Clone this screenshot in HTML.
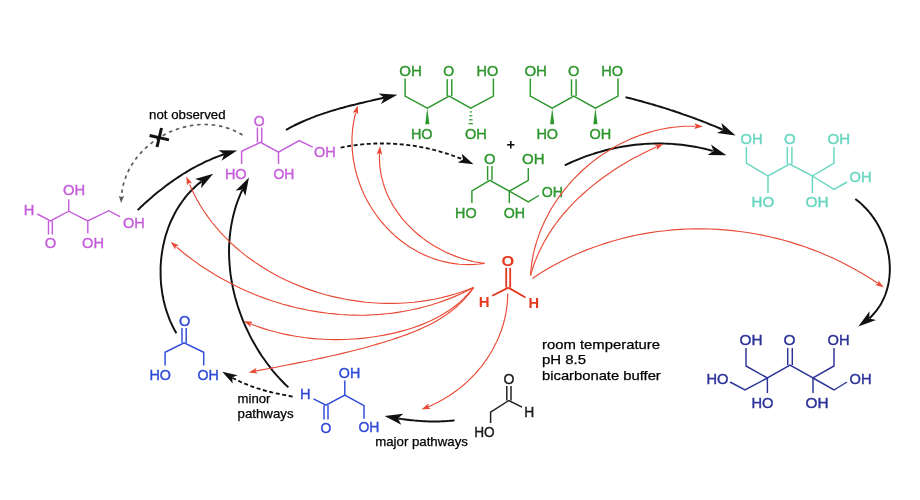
<!DOCTYPE html>
<html><head><meta charset="utf-8"><style>
html,body{margin:0;padding:0;background:#fff;}
svg{display:block;filter:blur(0.45px);}
text{font-family:"Liberation Sans",sans-serif;}
</style></head><body>
<svg width="920" height="500" viewBox="0 0 920 500">
<rect width="920" height="500" fill="#fff"/>
<polyline points="37.4,214 50.4,221 68.7,211.2 87.8,221 108.7,210.7 120,216.7" fill="none" stroke="#c55ddb" stroke-width="1.45" stroke-linejoin="miter"/>
<line x1="68.7" y1="211.2" x2="68.7" y2="199.3" stroke="#c55ddb" stroke-width="1.45" stroke-linecap="butt"/>
<line x1="87.8" y1="221" x2="87.8" y2="233.3" stroke="#c55ddb" stroke-width="1.45" stroke-linecap="butt"/>
<line x1="48.5" y1="221" x2="48.5" y2="234.5" stroke="#c55ddb" stroke-width="1.45" stroke-linecap="butt"/>
<line x1="52.3" y1="221" x2="52.3" y2="234.5" stroke="#c55ddb" stroke-width="1.45" stroke-linecap="butt"/>
<text x="23.8" y="215.0" font-size="14.5" fill="#c55ddb" stroke="#c55ddb" stroke-width="0.4" textLength="10.6" lengthAdjust="spacingAndGlyphs">H</text>
<text x="63.0" y="194.6" font-size="14.5" fill="#c55ddb" stroke="#c55ddb" stroke-width="0.4" textLength="22.1" lengthAdjust="spacingAndGlyphs">OH</text>
<text x="44.7" y="248.4" font-size="14.5" fill="#c55ddb" stroke="#c55ddb" stroke-width="0.4" textLength="11.5" lengthAdjust="spacingAndGlyphs">O</text>
<text x="82.1" y="248.4" font-size="14.5" fill="#c55ddb" stroke="#c55ddb" stroke-width="0.4" textLength="21.9" lengthAdjust="spacingAndGlyphs">OH</text>
<text x="123.0" y="227.6" font-size="14.5" fill="#c55ddb" stroke="#c55ddb" stroke-width="0.4" textLength="21.8" lengthAdjust="spacingAndGlyphs">OH</text>
<polyline points="241.6,164 241.6,151.3 260.5,142.3 278.5,152.2 299.2,140.5 312.7,147.2" fill="none" stroke="#c55ddb" stroke-width="1.45" stroke-linejoin="miter"/>
<line x1="278.5" y1="152.2" x2="278.5" y2="164" stroke="#c55ddb" stroke-width="1.45" stroke-linecap="butt"/>
<line x1="257.40000000000003" y1="127.5" x2="257.40000000000003" y2="142.3" stroke="#c55ddb" stroke-width="1.45" stroke-linecap="butt"/>
<line x1="261.8" y1="127.5" x2="261.8" y2="142.3" stroke="#c55ddb" stroke-width="1.45" stroke-linecap="butt"/>
<text x="253.7" y="125.6" font-size="14.5" fill="#c55ddb" stroke="#c55ddb" stroke-width="0.4" textLength="10.9" lengthAdjust="spacingAndGlyphs">O</text>
<text x="224.9" y="178.7" font-size="14.5" fill="#c55ddb" stroke="#c55ddb" stroke-width="0.4" textLength="21.7" lengthAdjust="spacingAndGlyphs">HO</text>
<text x="273.5" y="178.7" font-size="14.5" fill="#c55ddb" stroke="#c55ddb" stroke-width="0.4" textLength="20.8" lengthAdjust="spacingAndGlyphs">OH</text>
<text x="314.0" y="157.1" font-size="14.5" fill="#c55ddb" stroke="#c55ddb" stroke-width="0.4" textLength="21.7" lengthAdjust="spacingAndGlyphs">OH</text>
<polyline points="405.1,78.4 405.1,96.1 427.3,108.1 449.2,96.1 470.8,108.1 493.4,96.1 493.4,78.4" fill="none" stroke="#2d962d" stroke-width="1.45" stroke-linejoin="miter"/>
<line x1="447.2" y1="79.3" x2="447.2" y2="96.1" stroke="#2d962d" stroke-width="1.45" stroke-linecap="butt"/>
<line x1="451.8" y1="79.3" x2="451.8" y2="96.1" stroke="#2d962d" stroke-width="1.45" stroke-linecap="butt"/>
<polygon points="427.3,108.1 425.2,124.3 429.40000000000003,124.3" fill="#2d962d"/>
<line x1="469.7" y1="111.9" x2="471.9" y2="111.9" stroke="#2d962d" stroke-width="1.2" stroke-linecap="butt"/>
<line x1="469.3" y1="115.8" x2="472.3" y2="115.8" stroke="#2d962d" stroke-width="1.2" stroke-linecap="butt"/>
<line x1="469.0" y1="119.8" x2="472.6" y2="119.8" stroke="#2d962d" stroke-width="1.2" stroke-linecap="butt"/>
<line x1="468.6" y1="123.7" x2="473.0" y2="123.7" stroke="#2d962d" stroke-width="1.2" stroke-linecap="butt"/>
<text x="399.2" y="75.6" font-size="14.5" fill="#2d962d" stroke="#2d962d" stroke-width="0.4" textLength="22.6" lengthAdjust="spacingAndGlyphs">OH</text>
<text x="443.3" y="75.6" font-size="14.5" fill="#2d962d" stroke="#2d962d" stroke-width="0.4" textLength="10.9" lengthAdjust="spacingAndGlyphs">O</text>
<text x="476.6" y="75.6" font-size="14.5" fill="#2d962d" stroke="#2d962d" stroke-width="0.4" textLength="21.8" lengthAdjust="spacingAndGlyphs">HO</text>
<text x="410.9" y="138.6" font-size="14.5" fill="#2d962d" stroke="#2d962d" stroke-width="0.4" textLength="21.7" lengthAdjust="spacingAndGlyphs">HO</text>
<text x="464.9" y="138.6" font-size="14.5" fill="#2d962d" stroke="#2d962d" stroke-width="0.4" textLength="21.8" lengthAdjust="spacingAndGlyphs">OH</text>
<polyline points="530.3,78.5 530.3,96.1 552.2,108.1 573.8,96.1 595.4,108.1 618,96.1 618,78.5" fill="none" stroke="#2d962d" stroke-width="1.45" stroke-linejoin="miter"/>
<line x1="571.5" y1="79.3" x2="571.5" y2="96.1" stroke="#2d962d" stroke-width="1.45" stroke-linecap="butt"/>
<line x1="576.0999999999999" y1="79.3" x2="576.0999999999999" y2="96.1" stroke="#2d962d" stroke-width="1.45" stroke-linecap="butt"/>
<polygon points="552.2,108.1 550.1,124.3 554.3000000000001,124.3" fill="#2d962d"/>
<polygon points="595.4,108.1 593.3,124.3 597.5,124.3" fill="#2d962d"/>
<text x="524.4" y="76.1" font-size="14.5" fill="#2d962d" stroke="#2d962d" stroke-width="0.4" textLength="22.6" lengthAdjust="spacingAndGlyphs">OH</text>
<text x="567.9" y="76.1" font-size="14.5" fill="#2d962d" stroke="#2d962d" stroke-width="0.4" textLength="11.3" lengthAdjust="spacingAndGlyphs">O</text>
<text x="601.2" y="76.1" font-size="14.5" fill="#2d962d" stroke="#2d962d" stroke-width="0.4" textLength="21.8" lengthAdjust="spacingAndGlyphs">HO</text>
<text x="536.4" y="139.1" font-size="14.5" fill="#2d962d" stroke="#2d962d" stroke-width="0.4" textLength="21.7" lengthAdjust="spacingAndGlyphs">HO</text>
<text x="589.5" y="139.1" font-size="14.5" fill="#2d962d" stroke="#2d962d" stroke-width="0.4" textLength="21.8" lengthAdjust="spacingAndGlyphs">OH</text>
<line x1="507.1" y1="144.8" x2="514.5" y2="144.8" stroke="#111" stroke-width="1.6" stroke-linecap="butt"/>
<line x1="510.8" y1="141.1" x2="510.8" y2="148.5" stroke="#111" stroke-width="1.6" stroke-linecap="butt"/>
<polyline points="471.9,203.1 471.9,190.8 489.8,180.3 509.3,191.2 528.3,180.3 528.3,168" fill="none" stroke="#2d962d" stroke-width="1.45" stroke-linejoin="miter"/>
<line x1="509.3" y1="191.2" x2="509.3" y2="203.1" stroke="#2d962d" stroke-width="1.45" stroke-linecap="butt"/>
<polyline points="509.3,191.2 528.3,201.8 538.8,195.5" fill="none" stroke="#2d962d" stroke-width="1.45" stroke-linejoin="miter"/>
<line x1="487.6" y1="166.1" x2="487.6" y2="180.3" stroke="#2d962d" stroke-width="1.45" stroke-linecap="butt"/>
<line x1="492.0" y1="166.1" x2="492.0" y2="180.3" stroke="#2d962d" stroke-width="1.45" stroke-linecap="butt"/>
<text x="484.1" y="164.2" font-size="14.5" fill="#2d962d" stroke="#2d962d" stroke-width="0.4" textLength="11.5" lengthAdjust="spacingAndGlyphs">O</text>
<text x="522.1" y="164.2" font-size="14.5" fill="#2d962d" stroke="#2d962d" stroke-width="0.4" textLength="22.5" lengthAdjust="spacingAndGlyphs">OH</text>
<text x="541.7" y="196.9" font-size="14.5" fill="#2d962d" stroke="#2d962d" stroke-width="0.4" textLength="21.3" lengthAdjust="spacingAndGlyphs">OH</text>
<text x="455.1" y="218.2" font-size="14.5" fill="#2d962d" stroke="#2d962d" stroke-width="0.4" textLength="21.5" lengthAdjust="spacingAndGlyphs">HO</text>
<text x="503.7" y="218.2" font-size="14.5" fill="#2d962d" stroke="#2d962d" stroke-width="0.4" textLength="21.3" lengthAdjust="spacingAndGlyphs">OH</text>
<polyline points="746.4,147 746.4,163 768,176 789.6,164 812.4,176 834,163 834,147" fill="none" stroke="#68d6c0" stroke-width="1.45" stroke-linejoin="miter"/>
<line x1="768" y1="176" x2="768" y2="193" stroke="#68d6c0" stroke-width="1.45" stroke-linecap="butt"/>
<line x1="812.4" y1="176" x2="812.4" y2="193" stroke="#68d6c0" stroke-width="1.45" stroke-linecap="butt"/>
<polyline points="812.4,176 834,189.4 847,182" fill="none" stroke="#68d6c0" stroke-width="1.45" stroke-linejoin="miter"/>
<line x1="787.3000000000001" y1="147" x2="787.3000000000001" y2="164" stroke="#68d6c0" stroke-width="1.45" stroke-linecap="butt"/>
<line x1="791.9" y1="147" x2="791.9" y2="164" stroke="#68d6c0" stroke-width="1.45" stroke-linecap="butt"/>
<text x="740.5" y="144.4" font-size="14.5" fill="#68d6c0" stroke="#68d6c0" stroke-width="0.4" textLength="22.0" lengthAdjust="spacingAndGlyphs">OH</text>
<text x="783.9" y="144.4" font-size="14.5" fill="#68d6c0" stroke="#68d6c0" stroke-width="0.4" textLength="11.6" lengthAdjust="spacingAndGlyphs">O</text>
<text x="827.5" y="144.4" font-size="14.5" fill="#68d6c0" stroke="#68d6c0" stroke-width="0.4" textLength="22.6" lengthAdjust="spacingAndGlyphs">OH</text>
<text x="849.5" y="182.4" font-size="14.5" fill="#68d6c0" stroke="#68d6c0" stroke-width="0.4" textLength="22.0" lengthAdjust="spacingAndGlyphs">OH</text>
<text x="751.5" y="207.4" font-size="14.5" fill="#68d6c0" stroke="#68d6c0" stroke-width="0.4" textLength="22.6" lengthAdjust="spacingAndGlyphs">HO</text>
<text x="805.5" y="207.4" font-size="14.5" fill="#68d6c0" stroke="#68d6c0" stroke-width="0.4" textLength="23.0" lengthAdjust="spacingAndGlyphs">OH</text>
<polyline points="746,348 746,366 767.4,378 790,365 813,378 834,366 834,348" fill="none" stroke="#2b3399" stroke-width="1.45" stroke-linejoin="miter"/>
<line x1="767.4" y1="378" x2="767.4" y2="393" stroke="#2b3399" stroke-width="1.45" stroke-linecap="butt"/>
<line x1="813" y1="378" x2="813" y2="393" stroke="#2b3399" stroke-width="1.45" stroke-linecap="butt"/>
<polyline points="767.4,378 745,390 730,382" fill="none" stroke="#2b3399" stroke-width="1.45" stroke-linejoin="miter"/>
<polyline points="813,378 834,390 847,382" fill="none" stroke="#2b3399" stroke-width="1.45" stroke-linejoin="miter"/>
<line x1="787.7" y1="348" x2="787.7" y2="365" stroke="#2b3399" stroke-width="1.45" stroke-linecap="butt"/>
<line x1="792.3" y1="348" x2="792.3" y2="365" stroke="#2b3399" stroke-width="1.45" stroke-linecap="butt"/>
<text x="739.5" y="344.8" font-size="14.5" fill="#2b3399" stroke="#2b3399" stroke-width="0.4" textLength="23.0" lengthAdjust="spacingAndGlyphs">OH</text>
<text x="783.5" y="344.8" font-size="14.5" fill="#2b3399" stroke="#2b3399" stroke-width="0.4" textLength="12.0" lengthAdjust="spacingAndGlyphs">O</text>
<text x="827.5" y="344.8" font-size="14.5" fill="#2b3399" stroke="#2b3399" stroke-width="0.4" textLength="22.0" lengthAdjust="spacingAndGlyphs">OH</text>
<text x="706.5" y="384.0" font-size="14.5" fill="#2b3399" stroke="#2b3399" stroke-width="0.4" textLength="22.0" lengthAdjust="spacingAndGlyphs">HO</text>
<text x="849.5" y="384.0" font-size="14.5" fill="#2b3399" stroke="#2b3399" stroke-width="0.4" textLength="22.0" lengthAdjust="spacingAndGlyphs">OH</text>
<text x="751.5" y="407.8" font-size="14.5" fill="#2b3399" stroke="#2b3399" stroke-width="0.4" textLength="22.0" lengthAdjust="spacingAndGlyphs">HO</text>
<text x="805.5" y="407.8" font-size="14.5" fill="#2b3399" stroke="#2b3399" stroke-width="0.4" textLength="23.0" lengthAdjust="spacingAndGlyphs">OH</text>
<polyline points="165.1,365.6 165.1,352.3 184.1,342.8 203.7,352.3 203.7,365.6" fill="none" stroke="#2f4bd6" stroke-width="1.45" stroke-linejoin="miter"/>
<line x1="182.0" y1="328" x2="182.0" y2="342.8" stroke="#2f4bd6" stroke-width="1.45" stroke-linecap="butt"/>
<line x1="186.2" y1="328" x2="186.2" y2="342.8" stroke="#2f4bd6" stroke-width="1.45" stroke-linecap="butt"/>
<text x="179.0" y="326.1" font-size="14.5" fill="#2f4bd6" stroke="#2f4bd6" stroke-width="0.4" textLength="11.3" lengthAdjust="spacingAndGlyphs">O</text>
<text x="149.4" y="380.2" font-size="14.5" fill="#2f4bd6" stroke="#2f4bd6" stroke-width="0.4" textLength="21.5" lengthAdjust="spacingAndGlyphs">HO</text>
<text x="197.5" y="380.2" font-size="14.5" fill="#2f4bd6" stroke="#2f4bd6" stroke-width="0.4" textLength="21.3" lengthAdjust="spacingAndGlyphs">OH</text>
<polyline points="313.5,398.9 326,405.2 344.8,395 364,405.7 364,418.8" fill="none" stroke="#2f4bd6" stroke-width="1.45" stroke-linejoin="miter"/>
<line x1="344.8" y1="395" x2="344.8" y2="380.5" stroke="#2f4bd6" stroke-width="1.45" stroke-linecap="butt"/>
<line x1="324.0" y1="405.2" x2="324.0" y2="419.6" stroke="#2f4bd6" stroke-width="1.45" stroke-linecap="butt"/>
<line x1="328.0" y1="405.2" x2="328.0" y2="419.6" stroke="#2f4bd6" stroke-width="1.45" stroke-linecap="butt"/>
<text x="300.0" y="399.3" font-size="14.5" fill="#2f4bd6" stroke="#2f4bd6" stroke-width="0.4" textLength="10.6" lengthAdjust="spacingAndGlyphs">H</text>
<text x="338.8" y="378.4" font-size="14.5" fill="#2f4bd6" stroke="#2f4bd6" stroke-width="0.4" textLength="21.4" lengthAdjust="spacingAndGlyphs">OH</text>
<text x="320.5" y="432.8" font-size="14.5" fill="#2f4bd6" stroke="#2f4bd6" stroke-width="0.4" textLength="10.8" lengthAdjust="spacingAndGlyphs">O</text>
<text x="358.4" y="432.3" font-size="14.5" fill="#2f4bd6" stroke="#2f4bd6" stroke-width="0.4" textLength="20.9" lengthAdjust="spacingAndGlyphs">OH</text>
<polyline points="490.6,423 490.6,412.2 508.9,400.5 522,407.1" fill="none" stroke="#1a1a1a" stroke-width="1.45" stroke-linejoin="miter"/>
<line x1="506.79999999999995" y1="386" x2="506.79999999999995" y2="400.5" stroke="#1a1a1a" stroke-width="1.45" stroke-linecap="butt"/>
<line x1="511.0" y1="386" x2="511.0" y2="400.5" stroke="#1a1a1a" stroke-width="1.45" stroke-linecap="butt"/>
<text x="503.6" y="383.8" font-size="14.5" fill="#1a1a1a" stroke="#1a1a1a" stroke-width="0.4" textLength="10.9" lengthAdjust="spacingAndGlyphs">O</text>
<text x="524.2" y="416.5" font-size="14.5" fill="#1a1a1a" stroke="#1a1a1a" stroke-width="0.4" textLength="10.0" lengthAdjust="spacingAndGlyphs">H</text>
<text x="474.2" y="437.4" font-size="14.5" fill="#1a1a1a" stroke="#1a1a1a" stroke-width="0.4" textLength="20.5" lengthAdjust="spacingAndGlyphs">HO</text>
<line x1="508.4" y1="287.6" x2="492.2" y2="295.7" stroke="#e5391f" stroke-width="1.8" stroke-linecap="butt"/>
<line x1="508.4" y1="287.6" x2="525.5" y2="297.5" stroke="#e5391f" stroke-width="1.8" stroke-linecap="butt"/>
<line x1="506.2" y1="267.8" x2="506.2" y2="287.6" stroke="#e5391f" stroke-width="1.8" stroke-linecap="butt"/>
<line x1="510.2" y1="267.8" x2="510.2" y2="287.6" stroke="#e5391f" stroke-width="1.8" stroke-linecap="butt"/>
<text x="501.6" y="265.5" font-size="14.5" font-weight="bold" fill="#e5391f" textLength="12.7" lengthAdjust="spacingAndGlyphs">O</text>
<text x="478.7" y="306.9" font-size="14.5" font-weight="bold" fill="#e5391f" textLength="10.8" lengthAdjust="spacingAndGlyphs">H</text>
<text x="528.5" y="308.1" font-size="14.5" font-weight="bold" fill="#e5391f" textLength="10.6" lengthAdjust="spacingAndGlyphs">H</text>
<text x="149.1" y="118.5" font-size="13" fill="#000" stroke="#000" stroke-width="0.25" textLength="76.5" lengthAdjust="spacingAndGlyphs">not observed</text>
<text x="542.0" y="348.6" font-size="13.2" fill="#000" stroke="#000" stroke-width="0.25" textLength="118.0" lengthAdjust="spacingAndGlyphs">room temperature</text>
<text x="542.0" y="364.0" font-size="13.2" fill="#000" stroke="#000" stroke-width="0.25" textLength="44.0" lengthAdjust="spacingAndGlyphs">pH 8.5</text>
<text x="542.0" y="379.6" font-size="13.2" fill="#000" stroke="#000" stroke-width="0.25" textLength="118.8" lengthAdjust="spacingAndGlyphs">bicarbonate buffer</text>
<text x="237.5" y="403.3" font-size="13" fill="#000" stroke="#000" stroke-width="0.25" textLength="32.9" lengthAdjust="spacingAndGlyphs">minor</text>
<text x="237.5" y="417.7" font-size="13" fill="#000" stroke="#000" stroke-width="0.25" textLength="56.1" lengthAdjust="spacingAndGlyphs">pathways</text>
<text x="375.2" y="445.5" font-size="13" fill="#000" stroke="#000" stroke-width="0.25" textLength="92.7" lengthAdjust="spacingAndGlyphs">major pathways</text>
<path d="M137.7,210.1 L139.4,208.5 L141.1,206.8 L142.8,205.2 L144.6,203.6 L146.3,202.1 L148.1,200.5 L149.8,198.9 L151.6,197.4 L153.4,195.8 L155.2,194.3 L157.0,192.8 L158.9,191.3 L160.7,189.9 L162.6,188.4 L164.4,187.0 L166.3,185.5 L168.2,184.1 L170.1,182.7 L172.1,181.4 L174.0,180.0 L175.9,178.7 L177.9,177.4 L179.9,176.1 L181.9,174.8 L183.9,173.5 L185.9,172.3 L187.9,171.1 L189.9,169.9 L192.0,168.7 L194.0,167.6 L196.1,166.5 L198.2,165.4 L200.3,164.3 L202.4,163.3 L204.5,162.2 L206.6,161.2 L208.8,160.3 L210.9,159.3 L213.1,158.4 L215.3,157.5 L217.5,156.7 L219.7,155.8 L221.9,155.0 L224.1,154.3" fill="none" stroke="#111" stroke-width="1.95" stroke-linejoin="round"/>
<polygon points="237.2,150.4 221.5,160.8 224.3,154.2 218.4,150.2" fill="#111"/>
<path d="M285.9,130.0 L288.0,128.8 L290.0,127.7 L292.1,126.6 L294.2,125.5 L296.3,124.5 L298.5,123.5 L300.6,122.5 L302.8,121.5 L304.9,120.6 L307.1,119.7 L309.3,118.8 L311.4,117.9 L313.6,117.1 L315.8,116.2 L318.0,115.4 L320.3,114.6 L322.5,113.9 L324.7,113.1 L327.0,112.4 L329.2,111.6 L331.5,110.9 L333.7,110.3 L336.0,109.6 L338.3,108.9 L340.5,108.3 L342.8,107.7 L345.1,107.0 L347.4,106.4 L349.7,105.8 L352.0,105.2 L354.3,104.7 L356.6,104.1 L358.9,103.5 L361.2,103.0 L363.5,102.5 L365.8,101.9 L368.1,101.4 L370.4,100.9 L372.7,100.3 L375.0,99.8 L377.3,99.3 L379.6,98.8 L381.9,98.3 L384.2,97.8" fill="none" stroke="#111" stroke-width="1.95" stroke-linejoin="round"/>
<polygon points="397.4,94.8 381.0,104.1 384.2,97.8 378.6,93.4" fill="#111"/>
<path d="M625.6,97.2 L627.9,97.8 L630.1,98.3 L632.4,98.9 L634.7,99.5 L636.9,100.1 L639.2,100.7 L641.5,101.3 L643.7,102.0 L646.0,102.6 L648.2,103.2 L650.5,103.9 L652.8,104.5 L655.0,105.2 L657.2,105.9 L659.5,106.5 L661.7,107.2 L664.0,107.9 L666.2,108.6 L668.4,109.3 L670.7,110.1 L672.9,110.8 L675.1,111.5 L677.4,112.3 L679.6,113.0 L681.8,113.8 L684.0,114.6 L686.2,115.3 L688.4,116.1 L690.6,116.9 L692.8,117.7 L695.0,118.5 L697.2,119.3 L699.4,120.2 L701.6,121.0 L703.8,121.9 L706.0,122.7 L708.1,123.6 L710.3,124.5 L712.5,125.3 L714.7,126.2 L716.8,127.1 L719.0,128.0 L721.1,129.0 L722.8,129.7" fill="none" stroke="#111" stroke-width="1.95" stroke-linejoin="round"/>
<polygon points="735.6,135.4 716.9,133.1 723.3,129.9 721.4,123.0" fill="#111"/>
<path d="M564.8,165.4 L567.8,163.9 L570.8,162.5 L573.9,161.2 L577.0,159.9 L580.1,158.6 L583.2,157.4 L586.3,156.2 L589.5,155.1 L592.7,154.1 L595.9,153.0 L599.1,152.1 L602.3,151.2 L605.5,150.3 L608.7,149.5 L612.0,148.7 L615.3,148.0 L618.5,147.4 L621.8,146.7 L625.1,146.2 L628.4,145.7 L631.8,145.2 L635.1,144.8 L638.4,144.5 L641.7,144.2 L645.1,143.9 L648.4,143.7 L651.7,143.6 L655.1,143.5 L658.4,143.5 L661.7,143.5 L665.1,143.6 L668.4,143.7 L671.7,143.9 L675.1,144.2 L678.4,144.5 L681.7,144.8 L685.0,145.2 L688.3,145.7 L691.6,146.2 L694.9,146.8 L698.2,147.4 L701.5,148.1 L704.7,148.8 L708.0,149.6 L711.2,150.5 L712.8,150.9" fill="none" stroke="#111" stroke-width="1.95" stroke-linejoin="round"/>
<polygon points="726.4,155.3 707.6,155.0 713.6,151.1 711.0,144.5" fill="#111"/>
<path d="M855.3,199.0 L857.6,200.8 L859.9,202.6 L862.1,204.6 L864.2,206.7 L866.3,208.8 L868.3,211.0 L870.2,213.3 L872.0,215.7 L873.7,218.1 L875.4,220.6 L877.0,223.2 L878.5,225.8 L879.9,228.5 L881.2,231.2 L882.5,233.9 L883.6,236.7 L884.7,239.6 L885.6,242.5 L886.5,245.4 L887.3,248.3 L887.9,251.2 L888.5,254.2 L889.0,257.2 L889.4,260.1 L889.6,263.1 L889.8,266.1 L889.8,269.1 L889.8,272.0 L889.6,275.0 L889.3,277.9 L888.9,280.9 L888.4,283.7 L887.8,286.6 L887.0,289.4 L886.2,292.2 L885.2,295.0 L884.1,297.7 L882.8,300.3 L881.5,302.9 L880.0,305.5 L878.3,308.0 L876.6,310.4 L874.7,312.7 L872.7,315.0 L870.5,317.2 L869.4,318.3" fill="none" stroke="#111" stroke-width="1.95" stroke-linejoin="round"/>
<polygon points="858.3,326.4 869.5,311.3 869.2,318.4 876.1,320.1" fill="#111"/>
<path d="M176.4,333.3 L174.7,330.2 L173.0,327.0 L171.5,323.8 L170.0,320.6 L168.7,317.2 L167.5,313.8 L166.3,310.4 L165.3,307.0 L164.4,303.4 L163.5,299.9 L162.8,296.3 L162.2,292.7 L161.7,289.1 L161.2,285.5 L160.9,281.8 L160.7,278.2 L160.6,274.5 L160.6,270.8 L160.6,267.1 L160.8,263.5 L161.1,259.8 L161.5,256.1 L162.0,252.5 L162.6,248.9 L163.3,245.3 L164.1,241.7 L165.0,238.1 L166.0,234.6 L167.1,231.2 L168.3,227.7 L169.6,224.3 L171.0,221.0 L172.6,217.7 L174.2,214.5 L175.9,211.3 L177.7,208.2 L179.7,205.1 L181.7,202.2 L183.8,199.3 L186.0,196.4 L188.4,193.7 L190.8,191.0 L193.4,188.5 L196.0,186.0 L198.7,183.6 L201.6,181.4" fill="none" stroke="#111" stroke-width="1.95" stroke-linejoin="round"/>
<polygon points="213.2,173.8 201.1,188.2 201.9,181.2 195.1,179.0" fill="#111"/>
<path d="M288.4,387.4 L285.1,384.3 L281.9,381.0 L278.8,377.7 L275.8,374.3 L272.8,370.8 L270.0,367.2 L267.2,363.5 L264.5,359.8 L261.8,356.0 L259.3,352.1 L256.8,348.1 L254.5,344.1 L252.2,340.1 L250.0,335.9 L248.0,331.7 L246.0,327.5 L244.1,323.2 L242.3,318.9 L240.7,314.5 L239.1,310.1 L237.6,305.7 L236.3,301.2 L235.0,296.7 L233.9,292.2 L232.9,287.7 L232.0,283.1 L231.2,278.5 L230.5,273.9 L230.0,269.3 L229.6,264.7 L229.3,260.1 L229.1,255.5 L229.0,250.9 L229.1,246.3 L229.4,241.8 L229.7,237.2 L230.2,232.6 L230.8,228.1 L231.6,223.6 L232.5,219.1 L233.5,214.7 L234.7,210.3 L236.0,205.9 L237.5,201.5 L239.2,197.2 L240.9,193.0 L242.4,189.8" fill="none" stroke="#111" stroke-width="1.95" stroke-linejoin="round"/>
<polygon points="249.0,177.5 245.3,196.0 242.6,189.4 235.6,190.8" fill="#111"/>
<path d="M454.6,420.4 L453.2,420.5 L451.8,420.7 L450.4,420.8 L448.9,420.9 L447.5,421.0 L446.1,421.1 L444.7,421.2 L443.3,421.3 L441.9,421.3 L440.5,421.4 L439.0,421.4 L437.6,421.4 L436.2,421.4 L434.8,421.5 L433.4,421.5 L432.0,421.4 L430.6,421.4 L429.1,421.4 L427.7,421.4 L426.3,421.3 L424.9,421.2 L423.5,421.2 L422.1,421.1 L420.7,421.0 L419.3,420.9 L417.8,420.8 L416.4,420.7 L415.0,420.6 L413.6,420.4 L412.2,420.3 L410.8,420.2 L409.4,420.0 L408.0,419.8 L406.6,419.7 L405.2,419.5 L403.8,419.3 L402.4,419.1 L401.0,418.9 L399.6,418.7 L398.2,418.5" fill="none" stroke="#111" stroke-width="1.95" stroke-linejoin="round"/>
<polygon points="384.6,416.0 403.3,413.8 397.9,418.4 401.3,424.7" fill="#111"/>
<path d="M242.5,135.0 L239.5,133.2 L236.4,131.6 L233.3,130.2 L230.1,129.0 L226.9,127.9 L223.6,126.9 L220.4,126.1 L217.1,125.5 L213.8,125.0 L210.5,124.7 L207.1,124.5 L203.8,124.5 L200.5,124.5 L197.2,124.8 L193.9,125.2 L190.6,125.7 L187.3,126.3 L184.0,127.1 L180.8,127.9 L177.6,129.0 L174.5,130.1 L171.4,131.3 L168.3,132.7 L165.3,134.2 L162.4,135.8 L159.5,137.5 L156.7,139.3 L153.9,141.2 L151.3,143.2 L148.7,145.3 L146.2,147.5 L143.8,149.8 L141.5,152.2 L139.2,154.6 L137.1,157.2 L135.1,159.8 L133.2,162.5 L131.5,165.3 L129.8,168.2 L128.3,171.1 L126.9,174.1 L125.7,177.2 L124.6,180.3 L123.6,183.5 L122.8,186.8 L122.2,190.1 L121.7,193.5 L121.4,196.9" fill="none" stroke="#5a5a5a" stroke-width="1.7" stroke-linejoin="round" stroke-dasharray="3.5,3.8"/>
<polygon points="121.2,203.0 118.8,195.9 121.4,197.0 124.0,196.1" fill="#5a5a5a"/>
<path d="M340.6,147.6 L343.3,147.1 L346.0,146.6 L348.7,146.1 L351.4,145.7 L354.1,145.3 L356.8,145.0 L359.6,144.7 L362.3,144.4 L365.0,144.1 L367.7,143.9 L370.5,143.8 L373.2,143.6 L376.0,143.5 L378.7,143.5 L381.4,143.4 L384.2,143.5 L386.9,143.5 L389.6,143.6 L392.4,143.7 L395.1,143.9 L397.8,144.0 L400.6,144.3 L403.3,144.5 L406.0,144.8 L408.7,145.1 L411.5,145.5 L414.2,145.9 L416.9,146.3 L419.6,146.8 L422.3,147.3 L424.9,147.8 L427.6,148.4 L430.3,149.0 L433.0,149.7 L435.6,150.3 L438.3,151.0 L440.9,151.8 L443.5,152.6 L446.1,153.4 L448.7,154.2 L451.3,155.1 L453.9,156.0 L456.5,156.9 L459.0,157.9 L461.6,158.9 L462.9,159.5" fill="none" stroke="#111" stroke-width="1.85" stroke-linejoin="round" stroke-dasharray="4,2.6"/>
<polygon points="473.5,164.2 457.8,162.5 463.0,159.5 461.8,153.7" fill="#111"/>
<path d="M292.6,396.5 L291.1,396.3 L289.6,396.0 L288.1,395.8 L286.7,395.5 L285.2,395.2 L283.7,394.9 L282.2,394.7 L280.7,394.4 L279.2,394.0 L277.8,393.7 L276.3,393.4 L274.8,393.1 L273.3,392.7 L271.9,392.4 L270.4,392.0 L268.9,391.6 L267.5,391.3 L266.0,390.9 L264.6,390.5 L263.1,390.0 L261.7,389.6 L260.2,389.2 L258.8,388.7 L257.3,388.3 L255.9,387.8 L254.5,387.3 L253.0,386.8 L251.6,386.3 L250.2,385.8 L248.8,385.2 L247.4,384.7 L246.0,384.1 L244.6,383.6 L243.2,383.0 L241.8,382.4 L240.4,381.8 L239.1,381.1 L237.7,380.5 L236.3,379.8 L235.0,379.2 L233.6,378.5 L232.3,377.8" fill="none" stroke="#111" stroke-width="1.85" stroke-linejoin="round" stroke-dasharray="4,2.6"/>
<polygon points="222.2,371.8 237.6,375.3 232.1,377.6 232.7,383.6" fill="#111"/>
<line x1="161.5" y1="128.0" x2="157.0" y2="147.0" stroke="#111" stroke-width="3.0" stroke-linecap="butt"/>
<line x1="149.6" y1="135.5" x2="169.0" y2="139.9" stroke="#111" stroke-width="3.0" stroke-linecap="butt"/>
<path d="M484.5,263.4 L479.4,264.0 L474.3,264.4 L469.2,264.6 L464.2,264.5 L459.3,264.2 L454.4,263.6 L449.6,262.9 L444.9,261.9 L440.3,260.7 L435.7,259.4 L431.2,257.8 L426.8,256.0 L422.4,254.1 L418.2,251.9 L414.1,249.6 L410.0,247.2 L406.1,244.5 L402.3,241.7 L398.5,238.8 L394.9,235.7 L391.4,232.5 L388.1,229.1 L384.8,225.6 L381.7,222.0 L378.7,218.3 L375.9,214.5 L373.2,210.5 L370.6,206.5 L368.2,202.4 L366.0,198.2 L363.9,193.9 L361.9,189.5 L360.1,185.0 L358.5,180.5 L357.1,176.0 L355.8,171.3 L354.7,166.7 L353.8,161.9 L353.0,157.2 L352.5,152.4 L352.1,147.6 L352.0,142.8 L352.0,138.0 L352.3,133.1 L352.7,128.3 L353.4,123.4 L354.3,118.6 L355.4,113.8 L355.7,112.6" fill="none" stroke="#e94a35" stroke-width="1.15" stroke-linejoin="round"/>
<polygon points="357.8,105.4 358.1,114.3 355.8,112.1 352.7,112.7" fill="#e94a35"/>
<path d="M484.5,263.4 L481.0,262.9 L477.6,262.3 L474.2,261.7 L470.8,260.9 L467.4,260.0 L464.0,259.1 L460.6,258.0 L457.3,256.9 L454.0,255.6 L450.7,254.3 L447.5,252.9 L444.3,251.4 L441.2,249.8 L438.1,248.1 L435.0,246.4 L432.0,244.6 L429.1,242.7 L426.2,240.7 L423.4,238.6 L420.6,236.5 L417.9,234.3 L415.2,232.0 L412.7,229.6 L410.2,227.2 L407.7,224.7 L405.4,222.2 L403.1,219.6 L400.9,216.9 L398.9,214.2 L396.9,211.4 L395.0,208.5 L393.1,205.6 L391.4,202.6 L389.8,199.6 L388.3,196.5 L386.9,193.4 L385.6,190.2 L384.4,187.0 L383.4,183.7 L382.5,180.4 L381.6,177.1 L380.9,173.6 L380.4,170.2 L379.9,166.7 L379.6,163.2 L379.5,159.6 L379.4,156.0 L379.5,153.3" fill="none" stroke="#e94a35" stroke-width="1.15" stroke-linejoin="round"/>
<polygon points="380.1,146.0 382.2,154.7 379.5,153.0 376.6,154.2" fill="#e94a35"/>
<path d="M473.5,287.6 L467.1,290.0 L460.7,292.3 L454.1,294.3 L447.6,296.1 L440.9,297.8 L434.2,299.2 L427.5,300.4 L420.8,301.4 L414.0,302.2 L407.2,302.8 L400.3,303.2 L393.5,303.4 L386.6,303.4 L379.8,303.2 L372.9,302.8 L366.1,302.2 L359.2,301.4 L352.4,300.4 L345.6,299.3 L338.9,297.9 L332.1,296.4 L325.5,294.7 L318.8,292.7 L312.3,290.6 L305.7,288.4 L299.3,285.9 L292.9,283.2 L286.7,280.4 L280.5,277.4 L274.4,274.2 L268.4,270.8 L262.6,267.3 L256.9,263.6 L251.3,259.7 L245.8,255.6 L240.5,251.4 L235.3,247.0 L230.3,242.4 L225.5,237.7 L220.9,232.8 L216.4,227.7 L212.1,222.5 L208.1,217.1 L204.2,211.5 L200.5,205.8 L197.1,199.9 L193.9,193.8 L191.0,187.6 L189.6,184.5" fill="none" stroke="#e94a35" stroke-width="1.15" stroke-linejoin="round"/>
<polygon points="186.4,176.4 192.1,183.3 189.0,182.9 186.9,185.3" fill="#e94a35"/>
<path d="M473.5,287.6 L467.6,290.6 L461.6,293.5 L455.6,296.1 L449.5,298.6 L443.4,300.9 L437.2,303.0 L430.9,305.0 L424.6,306.8 L418.3,308.4 L412.0,309.8 L405.6,311.0 L399.2,312.1 L392.7,313.1 L386.3,313.8 L379.8,314.4 L373.3,314.8 L366.8,315.1 L360.3,315.2 L353.8,315.1 L347.2,314.9 L340.7,314.5 L334.2,313.9 L327.7,313.3 L321.2,312.4 L314.8,311.4 L308.3,310.3 L301.9,308.9 L295.5,307.5 L289.2,305.9 L282.9,304.2 L276.6,302.3 L270.3,300.2 L264.2,298.1 L258.0,295.8 L251.9,293.3 L245.9,290.7 L239.9,288.0 L234.0,285.1 L228.2,282.1 L222.4,279.0 L216.7,275.7 L211.1,272.3 L205.6,268.8 L200.1,265.2 L194.7,261.4 L189.5,257.5 L184.3,253.5 L179.2,249.3 L176.7,247.2" fill="none" stroke="#e94a35" stroke-width="1.15" stroke-linejoin="round"/>
<polygon points="170.6,241.8 178.8,245.3 175.8,246.4 175.1,249.5" fill="#e94a35"/>
<path d="M473.5,287.6 L470.3,291.5 L466.9,295.2 L463.4,298.8 L459.8,302.1 L456.1,305.2 L452.2,308.2 L448.2,311.0 L444.1,313.6 L439.9,316.0 L435.6,318.3 L431.3,320.5 L426.8,322.5 L422.3,324.4 L417.7,326.1 L413.0,327.7 L408.3,329.2 L403.5,330.6 L398.7,331.9 L393.9,333.1 L389.0,334.1 L384.1,335.1 L379.1,336.0 L374.2,336.8 L369.2,337.5 L364.2,338.1 L359.2,338.6 L354.2,339.0 L349.1,339.3 L344.1,339.5 L339.1,339.6 L334.0,339.6 L329.0,339.5 L324.0,339.3 L319.0,339.0 L314.0,338.6 L309.0,338.1 L304.0,337.5 L299.1,336.8 L294.2,336.0 L289.3,335.1 L284.4,334.1 L279.6,333.0 L274.8,331.8 L270.1,330.5 L265.4,329.1 L260.8,327.6 L256.2,326.0 L251.6,324.2 L250.5,323.8" fill="none" stroke="#e94a35" stroke-width="1.15" stroke-linejoin="round"/>
<polygon points="243.8,321.0 252.7,321.7 250.3,323.7 250.6,326.9" fill="#e94a35"/>
<path d="M473.5,287.6 L470.6,291.8 L467.4,295.7 L464.2,299.4 L460.7,302.9 L457.2,306.2 L453.5,309.4 L449.7,312.3 L445.8,315.1 L441.7,317.8 L437.6,320.3 L433.4,322.7 L429.0,324.9 L424.6,327.0 L420.2,329.1 L415.7,331.0 L411.1,332.8 L406.5,334.6 L401.8,336.3 L397.1,337.9 L392.4,339.5 L387.6,341.0 L382.9,342.5 L378.1,343.9 L373.3,345.3 L368.5,346.7 L363.7,348.0 L358.8,349.3 L354.0,350.5 L349.1,351.7 L344.3,352.9 L339.4,354.1 L334.5,355.2 L329.7,356.3 L324.8,357.4 L319.9,358.4 L315.0,359.5 L310.1,360.5 L305.2,361.5 L300.4,362.4 L295.5,363.4 L290.6,364.4 L285.8,365.3 L280.9,366.2 L276.1,367.2 L271.3,368.1 L266.5,369.0 L261.7,369.9 L256.9,370.8 L255.7,371.0" fill="none" stroke="#e94a35" stroke-width="1.15" stroke-linejoin="round"/>
<polygon points="248.6,372.4 256.4,368.1 255.5,371.1 257.5,373.6" fill="#e94a35"/>
<path d="M507.8,293.4 L507.7,296.6 L507.6,299.7 L507.3,302.8 L507.0,305.9 L506.6,309.0 L506.1,312.1 L505.5,315.1 L504.9,318.1 L504.1,321.1 L503.3,324.1 L502.4,327.0 L501.5,330.0 L500.4,332.8 L499.3,335.7 L498.1,338.5 L496.9,341.3 L495.5,344.1 L494.1,346.8 L492.7,349.5 L491.1,352.2 L489.6,354.8 L487.9,357.4 L486.2,359.9 L484.4,362.4 L482.6,364.9 L480.7,367.3 L478.7,369.7 L476.7,372.0 L474.7,374.3 L472.5,376.5 L470.4,378.7 L468.2,380.8 L465.9,382.9 L463.6,385.0 L461.2,386.9 L458.8,388.9 L456.3,390.7 L453.8,392.5 L451.3,394.3 L448.7,396.0 L446.1,397.6 L443.4,399.2 L440.7,400.7 L438.0,402.2 L435.2,403.6 L432.4,404.9 L429.6,406.2 L428.1,406.8" fill="none" stroke="#e94a35" stroke-width="1.15" stroke-linejoin="round"/>
<polygon points="421.6,409.3 428.5,403.6 428.1,406.8 430.5,408.9" fill="#e94a35"/>
<path d="M530.5,275.5 L530.9,270.4 L531.5,265.3 L532.2,260.3 L533.1,255.3 L534.2,250.4 L535.5,245.5 L537.0,240.6 L538.6,235.9 L540.3,231.1 L542.3,226.5 L544.3,221.9 L546.6,217.4 L548.9,212.9 L551.4,208.5 L554.1,204.2 L556.9,200.0 L559.8,195.9 L562.8,191.8 L566.0,187.9 L569.2,184.0 L572.6,180.2 L576.1,176.6 L579.7,173.0 L583.4,169.5 L587.2,166.2 L591.2,162.9 L595.2,159.8 L599.2,156.8 L603.4,153.9 L607.7,151.2 L612.0,148.5 L616.4,146.0 L620.9,143.6 L625.4,141.4 L630.0,139.3 L634.7,137.4 L639.4,135.5 L644.2,133.9 L649.0,132.4 L653.9,131.0 L658.8,129.8 L663.7,128.8 L668.7,127.9 L673.7,127.2 L678.8,126.7 L683.8,126.3 L688.9,126.2 L694.0,126.2 L695.2,126.2" fill="none" stroke="#e94a35" stroke-width="1.15" stroke-linejoin="round"/>
<polygon points="702.9,126.6 694.3,128.9 695.9,126.2 694.6,123.3" fill="#e94a35"/>
<path d="M530.5,275.5 L531.6,271.7 L532.8,268.0 L534.0,264.3 L535.4,260.6 L536.9,257.0 L538.4,253.4 L540.0,249.9 L541.8,246.5 L543.6,243.0 L545.4,239.7 L547.4,236.4 L549.4,233.1 L551.5,229.9 L553.7,226.7 L556.0,223.5 L558.3,220.4 L560.7,217.4 L563.1,214.4 L565.7,211.5 L568.2,208.6 L570.9,205.7 L573.6,202.9 L576.3,200.2 L579.1,197.4 L582.0,194.8 L584.9,192.2 L587.8,189.6 L590.8,187.1 L593.9,184.6 L597.0,182.2 L600.1,179.8 L603.2,177.5 L606.4,175.2 L609.7,173.0 L612.9,170.8 L616.2,168.6 L619.5,166.5 L622.9,164.5 L626.2,162.5 L629.6,160.5 L633.0,158.6 L636.5,156.8 L639.9,155.0 L643.3,153.2 L646.8,151.5 L650.3,149.8 L653.8,148.2 L656.4,147.0" fill="none" stroke="#e94a35" stroke-width="1.15" stroke-linejoin="round"/>
<polygon points="663.4,144.0 656.7,149.9 657.0,146.8 654.5,144.8" fill="#e94a35"/>
<path d="M532.4,278.4 L538.7,274.3 L545.1,270.3 L551.6,266.6 L558.2,263.0 L564.9,259.6 L571.7,256.3 L578.6,253.3 L585.5,250.4 L592.5,247.7 L599.6,245.2 L606.7,242.9 L613.9,240.7 L621.1,238.7 L628.4,236.9 L635.7,235.3 L643.0,233.9 L650.4,232.6 L657.8,231.5 L665.3,230.7 L672.7,229.9 L680.2,229.4 L687.7,229.0 L695.1,228.9 L702.6,228.9 L710.1,229.0 L717.6,229.4 L725.0,229.9 L732.5,230.6 L739.9,231.5 L747.3,232.5 L754.7,233.8 L762.1,235.1 L769.4,236.7 L776.7,238.4 L783.9,240.3 L791.2,242.4 L798.3,244.6 L805.4,247.0 L812.5,249.6 L819.5,252.3 L826.4,255.2 L833.3,258.3 L840.1,261.5 L846.8,264.9 L853.5,268.5 L860.0,272.2 L866.5,276.0 L872.9,280.1 L877.7,283.2" fill="none" stroke="#e94a35" stroke-width="1.15" stroke-linejoin="round"/>
<polygon points="883.9,287.5 875.3,285.0 878.1,283.5 878.5,280.4" fill="#e94a35"/>
</svg>
</body></html>
